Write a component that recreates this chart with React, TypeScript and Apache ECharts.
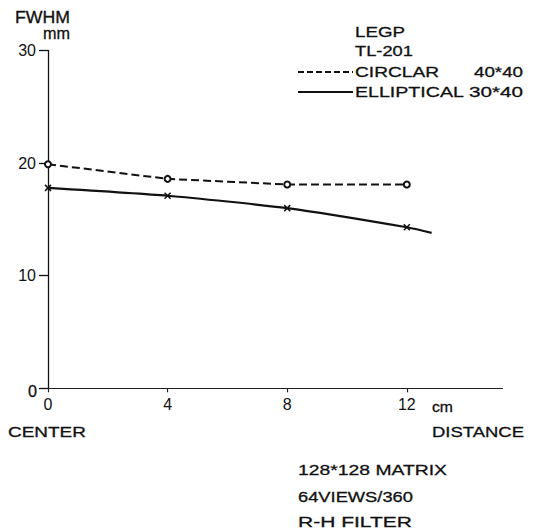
import React, { useEffect, useRef } from "react";
import * as echarts from "echarts";

const distances = [0, 4, 8, 12];
const circularFwhm = [19.9, 18.6, 18.1, 18.1];
const ellipticalX = [0, 4, 8, 12, 12.83];
const ellipticalFwhm = [17.8, 17.1, 16.0, 14.3, 13.8];
const ellipticalMarked = [true, true, true, true, false];
const yTicks = [0, 10, 20, 30];
const xTicks = [0, 4, 8, 12];

const FONT = "'Liberation Sans', Arial, Helvetica, sans-serif";
const INK = "#111";

let measureCtx: CanvasRenderingContext2D | null = null;
function measure(text: string, size: number): number {
  if (!measureCtx) measureCtx = document.createElement("canvas").getContext("2d");
  if (!measureCtx) return text.length * size * 0.6;
  measureCtx.font = `${size}px ${FONT}`;
  return measureCtx.measureText(text).width;
}

// [text, left, right, centerY, fontSize]
type Lab = [string, number, number, number, number];
const labels: Lab[] = [
  ["FWHM", 15, 70, 18, 16],
  ["mm", 43, 70, 33, 16],
  ["LEGP", 355, 405, 32, 15],
  ["TL-201", 355, 413, 51, 15],
  ["CIRCLAR", 355, 439, 72, 15],
  ["40*40", 474, 523, 72, 15],
  ["ELLIPTICAL", 355, 464, 92, 15],
  ["30*40", 469, 523, 92, 15],
  ["cm", 432, 453, 407, 15],
  ["CENTER", 8, 86, 432, 15],
  ["DISTANCE", 432, 524, 432, 15],
  ["128*128 MATRIX", 298, 447, 470, 15],
  ["64VIEWS/360", 298, 413, 497, 15],
  ["R-H FILTER", 298, 412, 522, 15],
  ["0", 28, 37, 391, 16],
];

export default function App() {
  const ref = useRef<HTMLDivElement>(null);
  useEffect(() => {
    if (!ref.current) return;
    const chart = echarts.init(ref.current, null, { renderer: "svg" });

    const textEls = labels.map(([t, l, r, cy, fs]) => {
      const w = measure(t, fs);
      return {
        type: "text",
        x: l,
        y: cy,
        scaleX: (r - l) / w,
        style: {
          text: t,
          fill: INK,
          stroke: INK,
          lineWidth: 0.3,
          font: `${fs}px ${FONT}`,
          align: "left",
          verticalAlign: "middle",
        },
        z: 10,
      };
    });

    const crossPath = "path://M0,0L10,10M10,0L0,10";

    chart.setOption({
      animation: false,
      backgroundColor: "#fff",
      grid: { left: 48, right: 30.5, top: 50.5, bottom: 141.7 },
      xAxis: {
        type: "value",
        min: 0,
        max: 15.2,
        interval: 4,
        splitLine: { show: false },
        axisLine: { show: true, lineStyle: { color: "#222", width: 1.2 } },
        axisTick: { show: true, length: 4, lineStyle: { color: "#222", width: 1.2 } },
        axisLabel: {
          color: INK,
          fontFamily: FONT,
          fontSize: 16,
          margin: 8,
          showMaxLabel: false,
          formatter: (v: number) => (xTicks.includes(v) ? String(v) : ""),
        },
      },
      yAxis: {
        type: "value",
        min: 0,
        max: 30,
        interval: 10,
        splitLine: { show: false },
        axisLine: { show: true, lineStyle: { color: "#111", width: 1.3 } },
        axisTick: { show: true, length: 9, lineStyle: { color: "#111", width: 1.3 } },
        axisLabel: {
          color: INK,
          fontFamily: FONT,
          fontSize: 16,
          margin: 12,
          formatter: (v: number) => (yTicks.includes(v) && v !== 0 ? String(v) : ""),
        },
      },
      series: [
        {
          type: "line",
          name: "CIRCLAR 40*40",
          data: distances.map((d, i) => [d, circularFwhm[i]]),
          symbol: "emptyCircle",
          symbolSize: 6,
          showAllSymbol: true,
          lineStyle: { color: "#111", width: 2, type: [8, 4] },
          itemStyle: { color: "#111", borderColor: "#111", borderWidth: 1.3 },
          z: 3,
        },
        {
          type: "line",
          name: "ELLIPTICAL 30*40",
          smooth: 0.2,
          data: ellipticalX.map((d, i) => ({
            value: [d, ellipticalFwhm[i]],
            symbol: ellipticalMarked[i] ? crossPath : "none",
          })),
          symbolSize: 6,
          showAllSymbol: true,
          lineStyle: { color: "#111", width: 2.2 },
          itemStyle: { color: "transparent", borderColor: "#111", borderWidth: 1.5 },
          z: 3,
        },
      ],
      graphic: [
        {
          type: "line",
          shape: { x1: 298, y1: 72, x2: 353, y2: 72 },
          style: { stroke: "#111", lineWidth: 2, lineDash: [6, 3] },
        },
        {
          type: "line",
          shape: { x1: 298, y1: 92, x2: 353, y2: 92 },
          style: { stroke: "#111", lineWidth: 2 },
        },
        ...textEls,
      ],
    });
    return () => chart.dispose();
  }, []);
  return (
    <div
      ref={ref}
      style={{ position: "fixed", left: 0, top: 0, width: 533, height: 530, background: "#fff" }}
    />
  );
}
